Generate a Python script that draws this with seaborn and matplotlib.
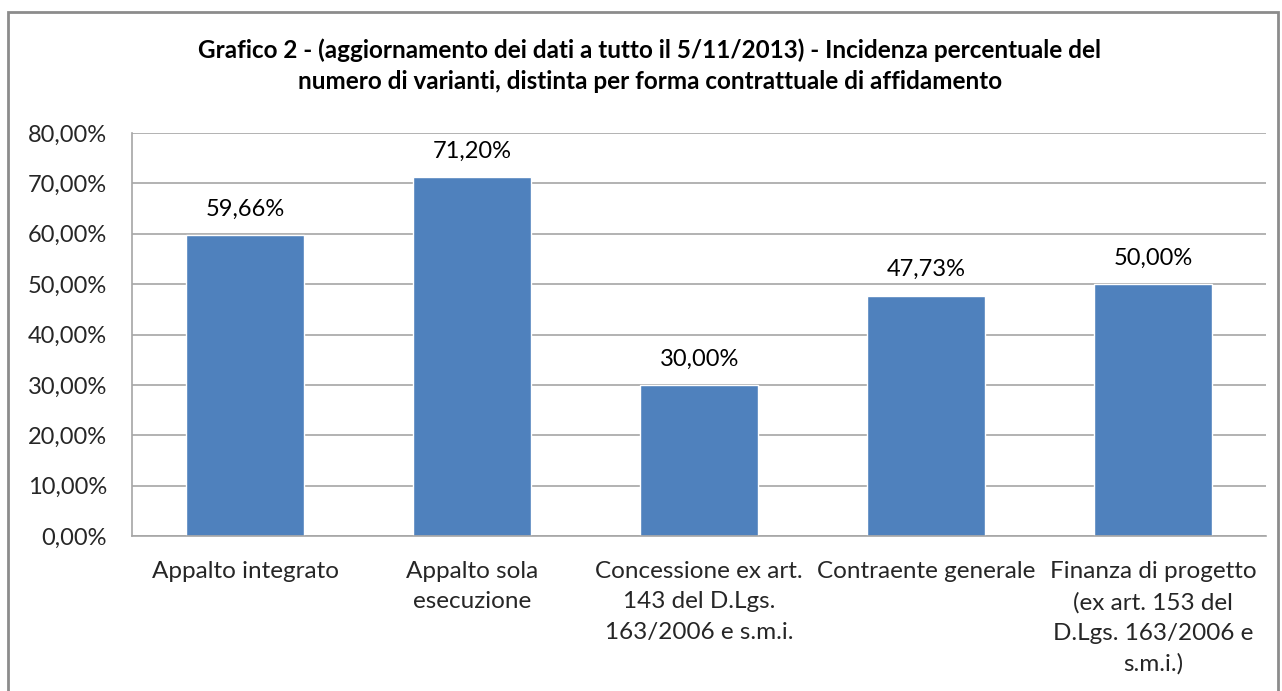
"""
Grafico 2 - incidenza percentuale del numero di varianti per forma contrattuale.
Writes out.png.
"""
import matplotlib
matplotlib.use('Agg')
import matplotlib.pyplot as plt
import seaborn as sns
import pandas as pd
from matplotlib.patches import Rectangle
from matplotlib.ticker import FuncFormatter, MultipleLocator

CATEGORIES = [
    "Appalto integrato",
    "Appalto sola\nesecuzione",
    "Concessione ex art.\n143 del D.Lgs.\n163/2006 e s.m.i.",
    "Contraente generale",
    "Finanza di progetto\n(ex art. 153 del\nD.Lgs. 163/2006 e\ns.m.i.)",
]
VALUES = [59.66, 71.20, 30.00, 47.73, 50.00]
TITLE = ("Grafico 2 - (aggiornamento dei dati a tutto il 5/11/2013) - Incidenza percentuale del\n"
         "numero di varianti, distinta per forma contrattuale di affidamento")

BAR_COLOR = "#4F81BD"
GRID_COLOR = "#A6A6A6"
FONT = ["Lato", "DejaVu Sans"]


def pct(v):
    return f"{v:.2f}%".replace(".", ",")


def main():
    sns.set_style("white")
    plt.rcParams['font.family'] = FONT
    plt.rcParams['text.color'] = "#000000"

    df = pd.DataFrame({"forma": CATEGORIES, "valore": VALUES})

    fig = plt.figure(figsize=(12.82, 6.91), dpi=100)
    ax = fig.add_axes([0.103, 0.2243, 0.8847, 0.5832])

    sns.barplot(data=df, x="forma", y="valore", color=BAR_COLOR,
                width=0.52, saturation=1, ax=ax)

    ax.set_ylim(0, 80)
    ax.yaxis.set_major_locator(MultipleLocator(10))
    ax.yaxis.set_major_formatter(FuncFormatter(lambda v, _: pct(v)))
    ax.grid(axis="y", color=GRID_COLOR, linewidth=1.2)
    ax.set_axisbelow(True)
    ax.set_xlabel("")
    ax.set_ylabel("")

    for side in ("top", "right"):
        ax.spines[side].set_visible(False)
    for side in ("left", "bottom"):
        ax.spines[side].set_color(GRID_COLOR)
        ax.spines[side].set_linewidth(1.2)

    ax.tick_params(axis="y", length=0, pad=18, labelsize=17)
    ax.tick_params(axis="x", length=0, pad=18, labelsize=17.5)
    for lbl in ax.get_xticklabels():
        lbl.set_linespacing(1.55)

    ax.bar_label(ax.containers[0], labels=[pct(v) for v in VALUES],
                 padding=11, fontsize=17)

    fig.text(0.507, 0.945, TITLE, ha="center", va="top", fontsize=17.5,
             fontweight="bold", linespacing=1.45)

    # outer chart frame
    fig.patches.append(Rectangle((8 / 1282, -0.05), 1270 / 1282, 0.05 + 679 / 691,
                                 transform=fig.transFigure, fill=False,
                                 edgecolor="#8C8C8C", linewidth=2))

    fig.savefig("out.png", dpi=100)
    plt.close(fig)


if __name__ == "__main__":
    main()
